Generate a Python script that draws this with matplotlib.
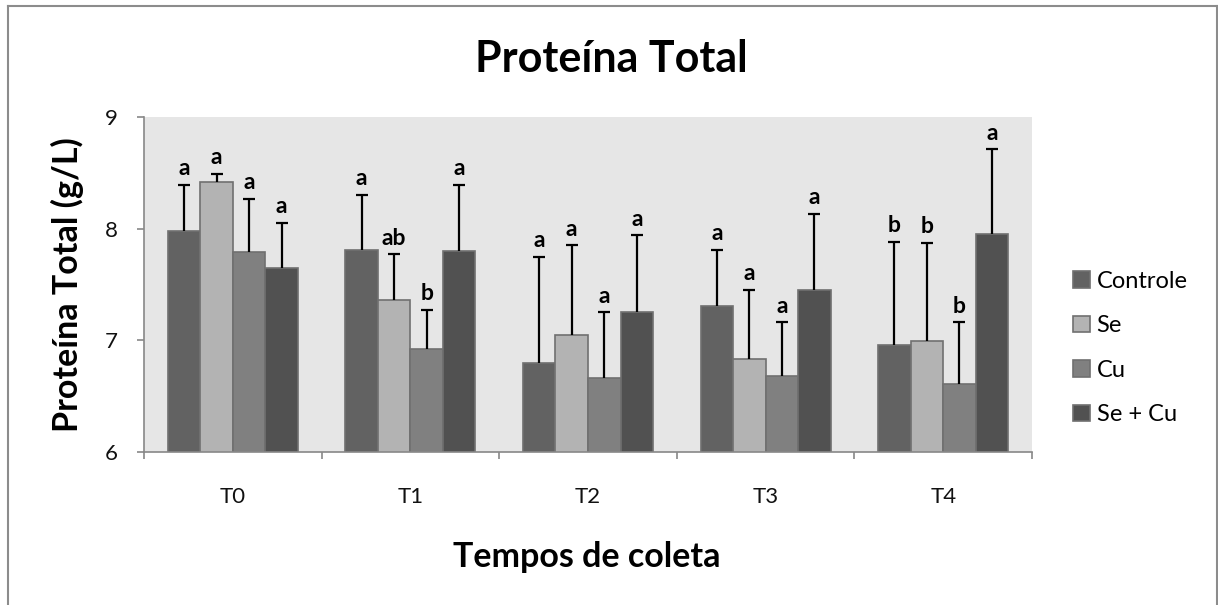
import matplotlib
matplotlib.use("Agg")
import matplotlib.pyplot as plt
from matplotlib.lines import Line2D
import numpy as np

plt.rcParams['font.family'] = ['Lato', 'DejaVu Sans']

# --- data ---
categories = ["T0", "T1", "T2", "T3", "T4"]
series_names = ["Controle", "Se", "Cu", "Se + Cu"]
controle = [7.98, 7.81, 6.80, 7.31, 6.96]
se = [8.42, 7.36, 7.05, 6.83, 6.99]
cu = [7.79, 6.92, 6.66, 6.68, 6.61]
se_cu = [7.65, 7.80, 7.25, 7.45, 7.95]
sd_controle = [0.41, 0.49, 0.95, 0.50, 0.92]
sd_se = [0.07, 0.41, 0.80, 0.62, 0.88]
sd_cu = [0.48, 0.35, 0.59, 0.48, 0.55]
sd_se_cu = [0.40, 0.59, 0.69, 0.68, 0.76]
letters_controle = ["a", "a", "a", "a", "b"]
letters_se = ["a", "ab", "a", "a", "b"]
letters_cu = ["a", "b", "a", "a", "b"]
letters_se_cu = ["a", "a", "a", "a", "a"]
y_ticks = [6, 7, 8, 9]

means = [controle, se, cu, se_cu]
sds = [sd_controle, sd_se, sd_cu, sd_se_cu]
letters = [letters_controle, letters_se, letters_cu, letters_se_cu]
colors = ["#626262", "#b3b3b3", "#808080", "#515151"]
edge = "#707070"
axis_gray = "#888888"

W, H = 1218, 605
fig = plt.figure(figsize=(W / 100, H / 100), dpi=100)
ax = fig.add_axes([144 / W, 1 - 452 / H, (1032 - 144) / W, (452 - 117) / H])
ax.set_facecolor("#e6e6e6")

x = np.arange(len(categories))
bw = 0.183
offsets = (np.arange(4) - 1.5) * bw

handles = []
for i in range(4):
    xs = x + offsets[i]
    b = ax.bar(xs, means[i], width=bw, color=colors[i], edgecolor=edge,
               linewidth=1.2, label=series_names[i], zorder=2)
    handles.append(b)
    eb = ax.errorbar(xs, means[i], yerr=[np.zeros(len(xs)), sds[i]], fmt="none",
                     ecolor="black", elinewidth=1.6, capsize=4.5, capthick=1.6,
                     zorder=3)
    # keep only the upper cap
    for cl in eb[1]:
        if np.allclose(cl.get_ydata(), means[i]):
            cl.set_visible(False)
    for xi, m, s, t in zip(xs, means[i], sds[i], letters[i]):
        ax.annotate(t, (xi, m + s), xytext=(0, 7), textcoords="offset points",
                    ha="center", va="baseline", fontsize=16.5, fontweight="bold",
                    color="black", zorder=4)

ax.set_xlim(-0.5, len(categories) - 0.5)
ax.set_ylim(6, 9)
ax.set_yticks(y_ticks)
ax.set_yticklabels([str(v) for v in y_ticks])
ax.tick_params(axis="y", direction="out", length=5, width=1.2, color=axis_gray,
               pad=14, labelsize=16, labelcolor="#111111")

# category boundaries as major ticks, labels at centres as minor ticks
ax.set_xticks(np.arange(len(categories) + 1) - 0.5)
ax.set_xticklabels([])
ax.tick_params(axis="x", which="major", direction="out", length=5, width=1.2, color=axis_gray)
ax.set_xticks(x, minor=True)
ax.set_xticklabels(categories, minor=True)
ax.tick_params(axis="x", which="minor", length=0, pad=25, labelsize=16,
               labelcolor="#111111")

for s in ["top", "right"]:
    ax.spines[s].set_visible(False)
for s in ["left", "bottom"]:
    ax.spines[s].set_color(axis_gray)
    ax.spines[s].set_linewidth(1.2)

fig.text(611 / W, 1 - 71.7 / H, "Proteína Total", ha="center", va="baseline",
         fontsize=31, fontweight="bold")
fig.text(587 / W, 1 - 566.7 / H, "Tempos de coleta", ha="center", va="baseline",
         fontsize=24.5, fontweight="bold")
fig.text(67.5 / W, 1 - 285 / H, "Proteína Total (g/L)", ha="center", va="center",
         rotation=90, fontsize=24.5, fontweight="bold")

leg = fig.legend(handles=handles, labels=series_names, loc="center left",
                 bbox_to_anchor=(1073 / W, 1 - 348 / H), bbox_transform=fig.transFigure,
                 frameon=False, fontsize=17, handlelength=0.7, handleheight=0.7,
                 handletextpad=0.3, labelspacing=1.0, borderpad=0, borderaxespad=0)

# chart border
bc = "#8c8c8c"
fig.add_artist(Line2D([7.5 / W, 7.5 / W], [0, 1 - 5.5 / H], color=bc, lw=1.5, transform=fig.transFigure))
fig.add_artist(Line2D([7.5 / W, 1216.5 / W], [1 - 5.5 / H, 1 - 5.5 / H], color=bc, lw=1.5, transform=fig.transFigure))
fig.add_artist(Line2D([1216.5 / W, 1216.5 / W], [0, 1 - 5.5 / H], color=bc, lw=1.5, transform=fig.transFigure))

fig.savefig("out.png", dpi=100)
